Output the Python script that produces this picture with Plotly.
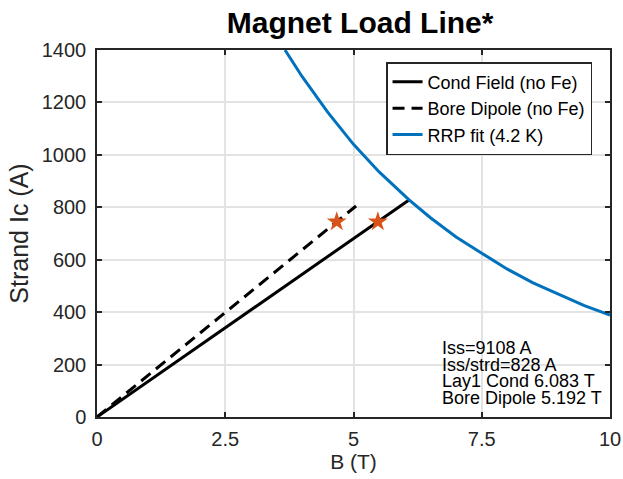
import plotly.graph_objects as go

# Load lines (B in T, strand current in A)
cond_B = [0.0, 6.083]
cond_I = [0.0, 828.0]
bore_B = [0.0, 5.05]
bore_I = [0.0, 805.0]

# RRP fit critical current curve
rrp_B = [3.665, 4.0, 4.5, 5.0, 5.5, 6.0, 6.083, 6.5, 7.0, 7.5, 8.0, 8.5, 9.0, 9.5, 10.0]
rrp_I = [1400, 1298, 1162, 1040, 935, 843, 828, 760, 687, 625, 564, 512, 467, 425, 389]

# 90% load markers
star_B = [4.673, 5.475]
star_I = [745.2, 745.2]

x_ticks = [0, 2.5, 5, 7.5, 10]
x_tick_labels = ["0", "2.5", "5", "7.5", "10"]
y_ticks = [0, 200, 400, 600, 800, 1000, 1200, 1400]

info_lines = ["Iss=9108 A", "Iss/strd=828 A", "Lay1 Cond 6.083 T", "Bore Dipole 5.192 T"]
info_y = [0.188, 0.1417, 0.098, 0.0518]

FONT = "Liberation Sans, Arial, Helvetica, sans-serif"

fig = go.Figure()
fig.add_trace(go.Scatter(x=cond_B, y=cond_I, mode="lines", name="Cond Field (no Fe)",
                         line=dict(color="black", width=3)))
fig.add_trace(go.Scatter(x=bore_B, y=bore_I, mode="lines", name="Bore Dipole (no Fe)",
                         line=dict(color="black", width=3, dash="12px,7px")))
fig.add_trace(go.Scatter(x=rrp_B, y=rrp_I, mode="lines", name="RRP fit (4.2 K)",
                         line=dict(color="#0072BD", width=3)))
fig.add_trace(go.Scatter(x=star_B, y=star_I, mode="markers", showlegend=False,
                         marker=dict(symbol="star", size=15, color="#D95319",
                                     line=dict(width=0))))

axis_common = dict(showline=True, linecolor="#262626", linewidth=1.5, mirror="ticks",
                   ticks="inside", ticklen=5, tickcolor="#262626", tickwidth=1.5,
                   showgrid=True, gridcolor="#e3e3e3", gridwidth=1.5, zeroline=False,
                   automargin=False,
                   tickfont=dict(size=20, color="#262626", family=FONT))

fig.update_xaxes(range=[0, 10], tickvals=x_ticks, ticktext=x_tick_labels, ticklabelstandoff=3,
                 title=dict(text="B (T)", font=dict(size=21, color="#262626"), standoff=6),
                 **axis_common)
fig.update_yaxes(range=[0, 1400], tickvals=y_ticks, ticklabelstandoff=5,
                 title=dict(text="Strand Ic (A)", font=dict(size=25, color="#262626"), standoff=6),
                 **axis_common)

for txt, yy in zip(info_lines, info_y):
    fig.add_annotation(x=0.669, y=yy, xref="paper", yref="paper", xanchor="left", yanchor="middle",
                       text=txt, showarrow=False, align="left",
                       font=dict(size=18, color="black", family=FONT))

fig.update_layout(
    width=623, height=479,
    margin=dict(l=97, r=13, t=50, b=62),
    paper_bgcolor="white", plot_bgcolor="white",
    font=dict(family=FONT, color="#262626"),
    title=dict(text="<b>Magnet Load Line*</b>", x=0.578, xanchor="center", y=0.952, yanchor="middle",
               font=dict(size=30, color="black", family=FONT)),
    legend=dict(x=0.965, y=0.967, xanchor="right", yanchor="top", bgcolor="white",
                bordercolor="#262626", borderwidth=1.5, tracegroupgap=0,
                font=dict(size=18, color="black", family=FONT)),
)

fig.write_html("out.html",
               config={"displayModeBar": False},
               post_script="document.body.style.margin='0px';"
                           "document.documentElement.style.overflow='hidden';")
